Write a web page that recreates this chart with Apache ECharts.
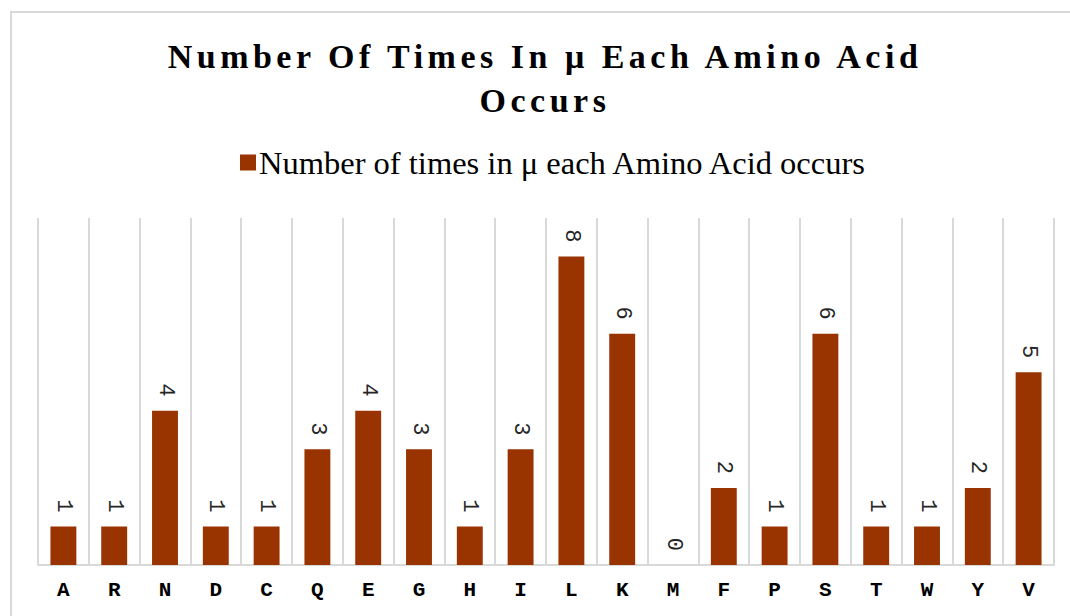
<!DOCTYPE html>
<html>
<head>
<meta charset="utf-8">
<script src="https://cdn.jsdelivr.net/npm/echarts@6/dist/echarts.min.js"></script>
<style>
html,body{margin:0;padding:0;background:#fff;}
#chart{width:1070px;height:616px;}
</style>
</head>
<body>
<div id="chart"></div>
<script>
const categories = ['A','R','N','D','C','Q','E','G','H','I','L','K','M','F','P','S','T','W','Y','V'];
const counts = [1,1,4,1,1,3,4,3,1,3,8,6,0,2,1,6,1,1,2,5];
const seriesName = 'Number of times in μ each Amino Acid occurs';
const titleText = 'Number Of Times In μ Each Amino Acid\nOccurs';

const chart = echarts.init(document.getElementById('chart'), null, {renderer: 'svg'});
const option = {
  animation: false,
  backgroundColor: '#fff',
  graphic: [{
    type: 'rect',
    shape: {x: 11, y: 12, width: 1100, height: 700},
    style: {fill: 'none', stroke: '#d9d9d9', lineWidth: 2},
    silent: true
  }],
  title: {
    text: titleText,
    left: 545,
    textAlign: 'center',
    top: 34,
    padding: 0,
    textStyle: {
      fontFamily: 'Liberation Serif',
      fontWeight: 'bold',
      fontSize: 34,
      lineHeight: 44,
      color: '#000'
    }
  },
  legend: {
    data: [seriesName],
    top: 141,
    left: 235,
    itemWidth: 16,
    itemHeight: 16,
    itemGap: 10,
    icon: 'rect',
    textStyle: {
      fontFamily: 'Liberation Serif',
      fontSize: 32.5,
      lineHeight: 32,
      color: '#000',
      padding: [0, 0, 0, -2]
    }
  },
  grid: {left: 38, right: 16, top: 218, bottom: 51},
  xAxis: {
    type: 'category',
    data: categories,
    boundaryGap: true,
    axisTick: {show: false},
    axisLine: {show: true, lineStyle: {color: '#d9d9d9', width: 2}},
    splitLine: {show: true, interval: 0, lineStyle: {color: '#d9d9d9', width: 2}},
    axisLabel: {
      interval: 0,
      margin: 15,
      fontFamily: 'Liberation Mono',
      fontWeight: 'bold',
      fontSize: 21,
      color: '#000'
    }
  },
  yAxis: {
    type: 'value',
    min: 0,
    max: 9,
    show: false,
    splitLine: {show: false}
  },
  series: [{
    name: seriesName,
    type: 'bar',
    data: counts,
    barWidth: '51%',
    itemStyle: {color: '#993300'},
    label: {
      show: true,
      position: 'top',
      rotate: -90,
      align: 'right',
      verticalAlign: 'middle',
      distance: 14,
      fontFamily: 'Liberation Mono',
      fontSize: 22,
      color: '#262626'
    }
  }]
};
chart.setOption(option);

function applySpacing() {
  document.querySelectorAll('#chart svg text').forEach(function (t) {
    const s = t.textContent || '';
    if (s.indexOf('Number Of Times') === 0 || s === 'Occurs') {
      t.style.letterSpacing = '4.5px';
    }
  });
}
applySpacing();
chart.on('finished', applySpacing);
setTimeout(applySpacing, 50);
</script>
</body>
</html>
